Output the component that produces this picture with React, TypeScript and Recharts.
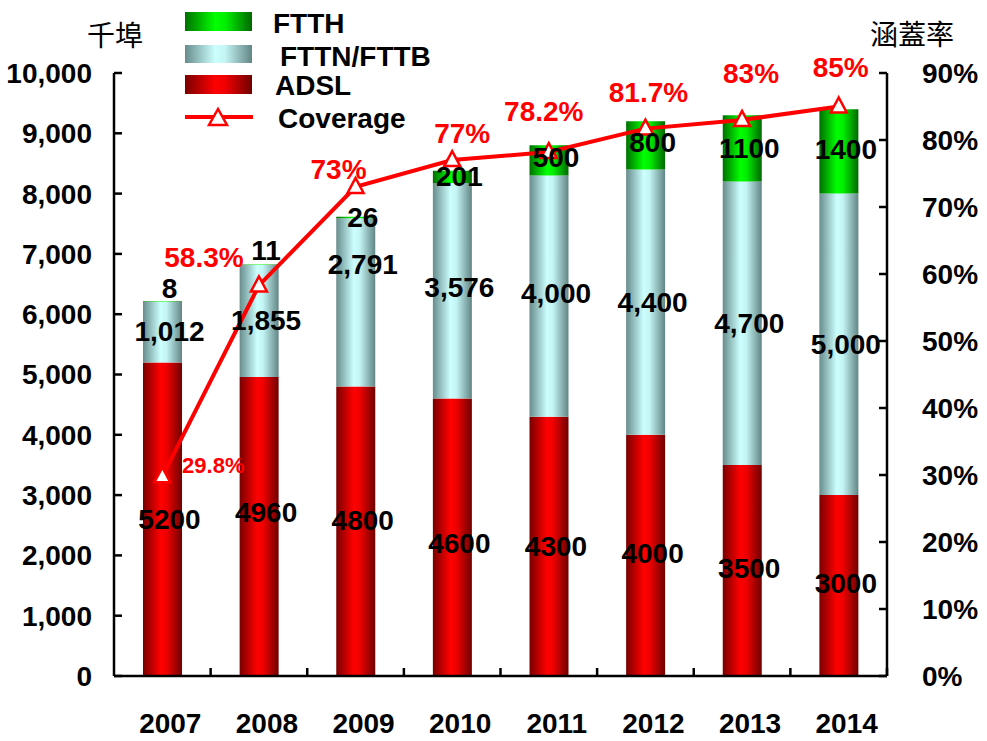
import React from 'react';
import { ComposedChart, Bar, Line, XAxis, YAxis, LabelList, Legend } from 'recharts';

const years = ['2007', '2008', '2009', '2010', '2011', '2012', '2013', '2014'];
const adsl = [5200, 4960, 4800, 4600, 4300, 4000, 3500, 3000];
const fttn = [1012, 1855, 2791, 3576, 4000, 4400, 4700, 5000];
const ftth = [8, 11, 26, 201, 500, 800, 1100, 1400];
const coverage = [29.8, 58.3, 73, 77, 78.2, 81.7, 83, 85];
const coverageLabels = ['29.8%', '58.3%', '73%', '77%', '78.2%', '81.7%', '83%', '85%'];
const leftTicks = [0, 1000, 2000, 3000, 4000, 5000, 6000, 7000, 8000, 9000, 10000];
const rightTicks = [0, 10, 20, 30, 40, 50, 60, 70, 80, 90];

const data = years.map((year, i) => ({
  year,
  adsl: adsl[i],
  fttn: fttn[i],
  ftth: ftth[i],
  coverage: coverage[i],
}));

const FONT = "'Liberation Sans', Arial, sans-serif";
const CJK = "'Noto Sans CJK TC', 'Noto Sans CJK SC', sans-serif";

// layout-only nudges for labels (pixels, relative to library-computed positions)
const covOffsets: [number, number][] = [
  [51, -11], [-55, -28], [-17, -17], [10, -27], [-5, -41], [3, -36], [9, -46], [2, -39],
];
const adslNudge = [0, -14, -11, 6, 0, -2, -2, -2];
const fttnNudge = [0, 0, -38, -3, -3, 0, 0, 0];
const ftthNudge = [-13, -14, 0, 0, -3, -3, 0, -2];

const fmtComma = (v: number) => v.toLocaleString('en-US');

const segLabel = (fmt: (v: number) => string, nudge: number[]) => (props: any) => {
  const { x, y, width, height, value, index } = props;
  return (
    <text
      x={Number(x) + Number(width) / 2 + 7}
      y={Number(y) + Number(height) / 2 + (nudge[index] || 0)}
      textAnchor="middle"
      dominantBaseline="central"
      fontFamily={FONT}
      fontWeight="bold"
      fontSize={28}
      fill="#000"
    >
      {fmt(Number(value))}
    </text>
  );
};

const covLabel = (props: any) => {
  const { x, y, index } = props;
  const [dx, dy] = covOffsets[index] || [0, -38];
  return (
    <text
      x={Number(x) + dx}
      y={Number(y) + dy}
      textAnchor="middle"
      dominantBaseline="central"
      fontFamily={FONT}
      fontWeight="bold"
      fontSize={index === 0 ? 22 : 28}
      fill="#ff0000"
    >
      {coverageLabels[index]}
    </text>
  );
};

const TriDot = (props: any) => {
  const { cx, cy } = props;
  if (cx == null || cy == null) return null;
  return (
    <polygon
      points={`${cx},${cy - 9} ${cx - 8},${cy + 6} ${cx + 8},${cy + 6}`}
      fill="#fff"
      stroke="#ff0000"
      strokeWidth={2.5}
    />
  );
};

const XTick = (props: any) => {
  const { x, y, payload } = props;
  const half = payload && typeof payload.offset === 'number' && payload.offset > 0 ? payload.offset : 48.3;
  return (
    <g>
      <line x1={x + half} x2={x + half} y1={y} y2={y - 8} stroke="#000" strokeWidth={2.5} />
      <text
        x={x + 8}
        y={y + 57}
        textAnchor="middle"
        fontFamily={FONT}
        fontWeight="bold"
        fontSize={28}
        fill="#000"
      >
        {payload.value}
      </text>
    </g>
  );
};

const Gradients = () => (
  <defs>
    <linearGradient id="gRed" x1="0" y1="0" x2="1" y2="0">
      <stop offset="0%" stopColor="#7a0000" />
      <stop offset="45%" stopColor="#ff0000" />
      <stop offset="60%" stopColor="#f00000" />
      <stop offset="100%" stopColor="#700000" />
    </linearGradient>
    <linearGradient id="gCyan" x1="0" y1="0" x2="1" y2="0">
      <stop offset="0%" stopColor="#688c8c" />
      <stop offset="45%" stopColor="#ccffff" />
      <stop offset="60%" stopColor="#c4f4f4" />
      <stop offset="100%" stopColor="#628585" />
    </linearGradient>
    <linearGradient id="gGreen" x1="0" y1="0" x2="1" y2="0">
      <stop offset="0%" stopColor="#007000" />
      <stop offset="45%" stopColor="#00ff00" />
      <stop offset="60%" stopColor="#00f000" />
      <stop offset="100%" stopColor="#006800" />
    </linearGradient>
  </defs>
);

const LegendContent = () => {
  const items = [
    { label: 'FTTH', fill: 'url(#gGreen)', y: 12, h: 19, tx: 273, base: 33 },
    { label: 'FTTN/FTTB', fill: 'url(#gCyan)', y: 45, h: 18, tx: 280, base: 66 },
    { label: 'ADSL', fill: 'url(#gRed)', y: 75, h: 19, tx: 275, base: 95 },
  ];
  return (
    <svg width={987} height={140} style={{ display: 'block' }}>
      <Gradients />
      {items.map((it) => (
        <g key={it.label}>
          <rect x={185} y={it.y} width={67} height={it.h} fill={it.fill} />
          <text x={it.tx} y={it.base} fontFamily={FONT} fontWeight="bold" fontSize={28} fill="#000">
            {it.label}
          </text>
        </g>
      ))}
      <line x1={185} x2={253} y1={117} y2={117} stroke="#ff0000" strokeWidth={4} />
      <polygon points="218,109 209,125 227,125" fill="#fff" stroke="#ff0000" strokeWidth={2.5} />
      <text x={278} y={128} fontFamily={FONT} fontWeight="bold" fontSize={28} fill="#000">
        Coverage
      </text>
    </svg>
  );
};

const LeftUnit = (props: any) => {
  const vb = props.viewBox || {};
  return (
    <text x={vb.x + vb.width + 1} y={vb.y - 39} textAnchor="middle" dominantBaseline="central"
      fontFamily={CJK} fontSize={28} fill="#000">千埠</text>
  );
};

const RightUnit = (props: any) => {
  const vb = props.viewBox || {};
  return (
    <text x={vb.x + 25} y={vb.y - 40} textAnchor="middle" dominantBaseline="central"
      fontFamily={CJK} fontSize={28} fill="#000">涵蓋率</text>
  );
};

export default function App() {
  const axisStroke = { stroke: '#000', strokeWidth: 2.5 };
  const tickStyle = { fontFamily: FONT, fontWeight: 'bold', fontSize: 28, fill: '#000' } as any;
  return (
    <div style={{ position: 'absolute', left: 0, top: 0, width: 987, height: 741, background: '#fff' }}>
      <ComposedChart
        width={987}
        height={741}
        data={data}
        margin={{ top: 73, right: 10, bottom: 10, left: 14 }}
        barCategoryGap="30%"
      >
        <Gradients />
        <Legend
          layout="horizontal"
          verticalAlign="middle"
          align="center"
          wrapperStyle={{ top: 0, left: 0, width: 987, height: 140 }}
          content={<LegendContent />}
        />
        <XAxis
          dataKey="year"
          xAxisId="x"
          height={55}
          tickSize={0}
          tickMargin={0}
          tickLine={false}
          axisLine={axisStroke}
          interval={0}
          tick={<XTick />}
        />
        <YAxis
          yAxisId="left"
          orientation="left"
          width={100}
          domain={[0, 10000]}
          ticks={leftTicks}
          tickFormatter={(v: number) => fmtComma(v)}
          tickSize={-8}
          tickMargin={30}
          axisLine={axisStroke}
          tickLine={axisStroke}
          tick={tickStyle}
          interval={0}
          label={<LeftUnit />}
        />
        <YAxis
          yAxisId="right"
          orientation="right"
          width={90}
          domain={[0, 90]}
          ticks={rightTicks}
          tickFormatter={(v: number) => `${v}%`}
          tickSize={-8}
          tickMargin={43}
          axisLine={axisStroke}
          tickLine={axisStroke}
          tick={tickStyle}
          interval={0}
          label={<RightUnit />}
        />
        <Bar dataKey="adsl" xAxisId="x" yAxisId="left" stackId="s" fill="url(#gRed)" barSize={39} isAnimationActive={false}>
          <LabelList dataKey="adsl" content={segLabel((v) => String(v), adslNudge)} />
        </Bar>
        <Bar dataKey="fttn" xAxisId="x" yAxisId="left" stackId="s" fill="url(#gCyan)" barSize={39} isAnimationActive={false}>
          <LabelList dataKey="fttn" content={segLabel(fmtComma, fttnNudge)} />
        </Bar>
        <Bar dataKey="ftth" xAxisId="x" yAxisId="left" stackId="s" fill="url(#gGreen)" barSize={39} isAnimationActive={false}>
          <LabelList dataKey="ftth" content={segLabel((v) => String(v), ftthNudge)} />
        </Bar>
        <Line
          dataKey="coverage"
          xAxisId="x"
          yAxisId="right"
          type="linear"
          stroke="#ff0000"
          strokeWidth={4}
          dot={<TriDot />}
          activeDot={false}
          isAnimationActive={false}
        >
          <LabelList dataKey="coverage" content={covLabel} />
        </Line>
      </ComposedChart>
    </div>
  );
}
